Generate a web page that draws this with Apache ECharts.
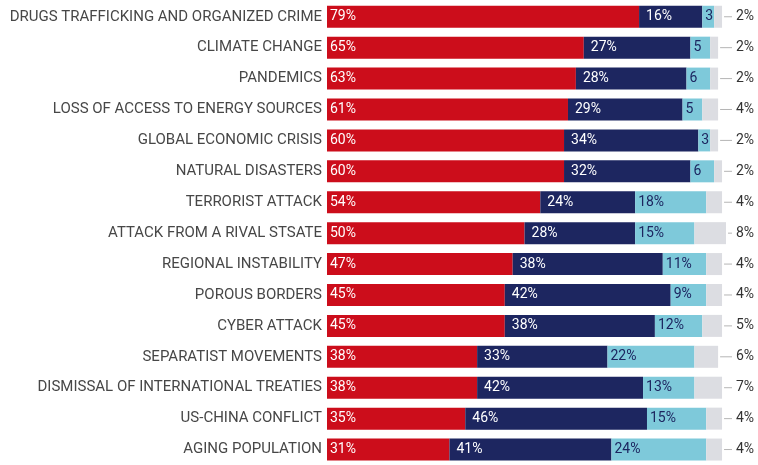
<!DOCTYPE html>
<html>
<head>
<meta charset="utf-8">
<script src="https://cdn.jsdelivr.net/npm/echarts@6/dist/echarts.min.js"></script>
<style>
  html, body { margin: 0; padding: 0; background: #ffffff; }
  #chart { width: 758px; height: 465px; }
</style>
</head>
<body>
<div id="chart"></div>
<script>
// Perceived threats, share of respondents per answer group (%)
const categories = [
  'DRUGS TRAFFICKING AND ORGANIZED CRIME',
  'CLIMATE CHANGE',
  'PANDEMICS',
  'LOSS OF ACCESS TO ENERGY SOURCES',
  'GLOBAL ECONOMIC CRISIS',
  'NATURAL DISASTERS',
  'TERRORIST ATTACK',
  'ATTACK FROM A RIVAL STSATE',
  'REGIONAL INSTABILITY',
  'POROUS BORDERS',
  'CYBER ATTACK',
  'SEPARATIST MOVEMENTS',
  'DISMISSAL OF INTERNATIONAL TREATIES',
  'US-CHINA CONFLICT',
  'AGING POPULATION'
];
const highValues   = [79, 65, 63, 61, 60, 60, 54, 50, 47, 45, 45, 38, 38, 35, 31];
const mediumValues = [16, 27, 28, 29, 34, 32, 24, 28, 38, 42, 38, 33, 42, 46, 41];
const lowValues    = [3, 5, 6, 5, 3, 6, 18, 15, 11, 9, 12, 22, 13, 15, 24];
const otherValues  = [2, 2, 2, 4, 2, 2, 4, 8, 4, 4, 5, 6, 7, 4, 4];

const totals = categories.map((_, i) => highValues[i] + mediumValues[i] + lowValues[i] + otherValues[i]);

const FONT = 'Roboto, "Liberation Sans", sans-serif';
const BAR_W = 22;

const chart = echarts.init(document.getElementById('chart'), null, { renderer: 'canvas' });

function pctLabel(color, distance, shortNoPct) {
  return {
    show: true,
    position: 'insideLeft',
    distance: distance,
    color: color,
    fontFamily: FONT,
    fontSize: 14,
    formatter: p => (shortNoPct && p.value < 7) ? String(p.value) : p.value + '%'
  };
}

chart.setOption({
  animation: false,
  grid: { left: 327, top: 1.3, width: 399, height: 465.6, containLabel: false },
  xAxis: { type: 'value', min: 0, max: 101, show: false },
  yAxis: {
    type: 'category',
    data: categories,
    inverse: true,
    axisLine: { show: false },
    axisTick: { show: false },
    splitLine: { show: false },
    axisLabel: { margin: 5, color: '#474747', fontFamily: FONT, fontSize: 15 }
  },
  series: [
    {
      name: 'high', type: 'bar', stack: 'all', barWidth: BAR_W,
      data: highValues, itemStyle: { color: '#cc0d1b' },
      label: pctLabel('#ffffff', 3, false)
    },
    {
      name: 'medium', type: 'bar', stack: 'all', barWidth: BAR_W,
      data: mediumValues, itemStyle: { color: '#1d2660' },
      label: pctLabel('#ffffff', 7, false)
    },
    {
      name: 'low', type: 'bar', stack: 'all', barWidth: BAR_W,
      data: lowValues, itemStyle: { color: '#7ec9da' },
      label: pctLabel('#1d2660', 3, true)
    },
    {
      name: 'other', type: 'bar', stack: 'all', barWidth: BAR_W,
      data: otherValues, itemStyle: { color: '#dcdde2' }
    },
    {
      // leader line from the bar end to the "other" share label
      name: 'otherLabel', type: 'custom',
      data: totals.map((t, i) => [t, i, otherValues[i]]),
      renderItem: function (params, api) {
        const p = api.coord([api.value(0), api.value(1)]);
        return {
          type: 'group',
          children: [
            {
              type: 'line',
              shape: { x1: p[0] + 2, y1: p[1], x2: 732, y2: p[1] },
              style: { stroke: '#b5b5b5', lineWidth: 1 }
            },
            {
              type: 'text',
              x: 736, y: p[1],
              style: {
                text: api.value(2) + '%',
                fill: '#333333',
                font: '14px ' + FONT,
                verticalAlign: 'middle',
                align: 'left'
              }
            }
          ]
        };
      }
    }
  ]
});
</script>
</body>
</html>
